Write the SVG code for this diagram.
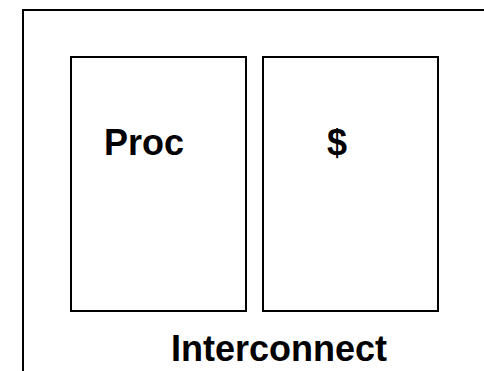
<svg xmlns="http://www.w3.org/2000/svg" width="484" height="371" viewBox="0 0 484 371">
<style>
.box{fill:none;stroke:#000;stroke-width:2}
.t{font-family:"Liberation Sans",Arial,sans-serif;font-weight:bold;font-size:36px;fill:#000}
</style>
<rect width="484" height="371" fill="#fff"/>
<g id="outer">
<path class="box" d="M23,371 V10 H490"/>
<text class="t" x="279" y="361" text-anchor="middle">Interconnect</text>
</g>
<g id="proc">
<rect class="box" x="71" y="57" width="175" height="254"/>
<text class="t" x="144" y="155" text-anchor="middle">Proc</text>
</g>
<g id="cache">
<rect class="box" x="263" y="57" width="175" height="254"/>
<text class="t" x="337" y="155" text-anchor="middle">$</text>
</g>
<g id="connectors"></g>
</svg>
